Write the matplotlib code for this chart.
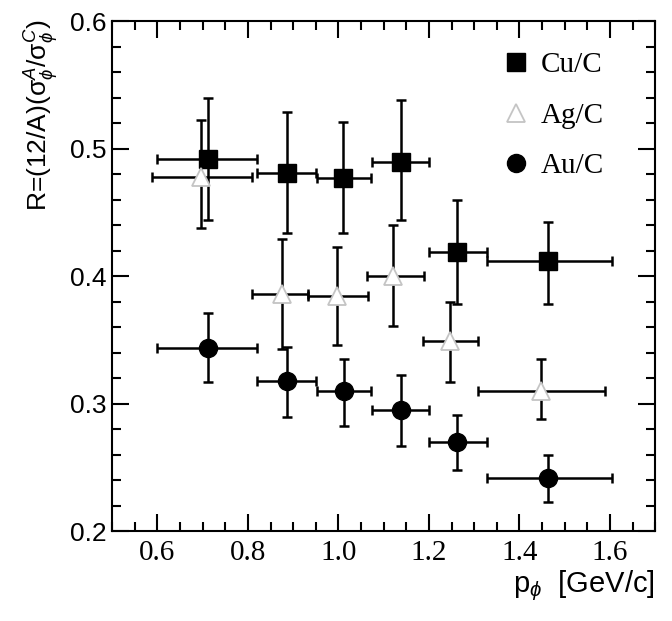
import matplotlib
matplotlib.use("Agg")
import matplotlib.pyplot as plt
import numpy as np
from matplotlib.ticker import MultipleLocator, FormatStrFormatter

plt.rcParams['mathtext.fontset'] = 'custom'
plt.rcParams['mathtext.rm'] = 'Liberation Sans'
plt.rcParams['mathtext.it'] = 'Liberation Sans:italic'
plt.rcParams['mathtext.sf'] = 'Liberation Sans'

# ---- data ----
labels = ["Cu/C", "Ag/C", "Au/C"]

cu_x = [0.711, 0.886, 1.011, 1.138, 1.263, 1.464]
cu_xlo = [0.598, 0.821, 0.952, 1.075, 1.199, 1.328]
cu_xhi = [0.821, 0.950, 1.073, 1.200, 1.328, 1.605]
cu_y = [0.492, 0.481, 0.477, 0.490, 0.419, 0.412]
cu_yhi = [0.540, 0.529, 0.521, 0.538, 0.460, 0.443]
cu_ylo = [0.444, 0.434, 0.434, 0.444, 0.378, 0.378]

ag_x = [0.696, 0.875, 0.996, 1.121, 1.247, 1.448]
ag_xlo = [0.587, 0.810, 0.933, 1.064, 1.186, 1.309]
ag_xhi = [0.810, 0.933, 1.065, 1.188, 1.309, 1.588]
ag_y = [0.478, 0.386, 0.385, 0.400, 0.349, 0.310]
ag_yhi = [0.523, 0.429, 0.423, 0.440, 0.380, 0.335]
ag_ylo = [0.438, 0.343, 0.346, 0.361, 0.317, 0.288]

au_x = [0.712, 0.886, 1.012, 1.138, 1.263, 1.464]
au_xlo = [0.598, 0.821, 0.952, 1.075, 1.199, 1.328]
au_xhi = [0.821, 0.950, 1.073, 1.200, 1.328, 1.605]
au_y = [0.344, 0.318, 0.310, 0.295, 0.270, 0.242]
au_yhi = [0.371, 0.345, 0.335, 0.323, 0.291, 0.260]
au_ylo = [0.317, 0.290, 0.283, 0.267, 0.248, 0.223]

x_ticks = [0.6, 0.8, 1.0, 1.2, 1.4, 1.6]
y_ticks = [0.2, 0.3, 0.4, 0.5, 0.6]

fig = plt.figure(figsize=(6.72, 6.21), dpi=100)
ax = fig.add_axes([0.167, 0.1443, 0.808, 0.8212])

series = [
    (cu_x, cu_xlo, cu_xhi, cu_y, cu_ylo, cu_yhi, dict(marker='s', mfc='black', mec='black', ms=13)),
    (ag_x, ag_xlo, ag_xhi, ag_y, ag_ylo, ag_yhi, dict(marker='^', mfc='white', mec='#c4c4c4', ms=13, mew=1.3)),
    (au_x, au_xlo, au_xhi, au_y, au_ylo, au_yhi, dict(marker='o', mfc='black', mec='black', ms=13)),
]

for (x, xlo, xhi, y, ylo, yhi, mk), lab in zip(series, labels):
    x = np.array(x); y = np.array(y)
    xerr = [x - np.array(xlo), np.array(xhi) - x]
    yerr = [y - np.array(ylo), np.array(yhi) - y]
    ax.errorbar(x, y, xerr=xerr, yerr=yerr, fmt='none', ecolor='black',
                elinewidth=1.8, capsize=3.8, capthick=1.8, zorder=2)
    ax.plot(x, y, ls='none', label=lab, zorder=3, **mk)

ax.set_xlim(0.5, 1.7)
ax.set_ylim(0.2, 0.6)
ax.set_xticks(x_ticks)
ax.set_yticks(y_ticks)
ax.xaxis.set_major_formatter(FormatStrFormatter('%.1f'))
ax.yaxis.set_major_formatter(FormatStrFormatter('%.1f'))
ax.xaxis.set_minor_locator(MultipleLocator(0.05))
ax.yaxis.set_minor_locator(MultipleLocator(0.02))
ax.tick_params(which='both', direction='in', top=True, right=True, width=1.5, color='black')
ax.tick_params(which='major', length=12.5)
ax.tick_params(which='minor', length=6.5)
ax.tick_params(axis='x', pad=6)
ax.tick_params(axis='y', pad=4)
for lbl in ax.get_xticklabels():
    lbl.set_fontfamily('Liberation Serif')
    lbl.set_fontsize(21)
for lbl in ax.get_yticklabels():
    lbl.set_fontfamily('Liberation Sans')
    lbl.set_fontsize(19)
for s in ax.spines.values():
    s.set_linewidth(1.5)

fig.text(42 / 672, 1 - 19 / 621, r'R=(12/A)($\mathrm{\sigma}^{A}_{\phi}$/$\mathrm{\sigma}^{C}_{\phi}$)',
         rotation=90, ha='center', va='top', fontsize=19, family='Liberation Sans')
fig.text(655 / 672, 1 - 586 / 621, r'p$_{\phi}$  [GeV/c]', ha='right', va='center',
         fontsize=21, family='Liberation Sans')

leg = ax.legend(loc='upper left', bbox_to_anchor=(0.717, 0.940), frameon=False,
                prop={'family': 'Liberation Serif', 'size': 21}, borderpad=0,
                handlelength=1.0, handletextpad=0.36, labelspacing=0.82,
                borderaxespad=0)

fig.savefig('out.png', dpi=100)
